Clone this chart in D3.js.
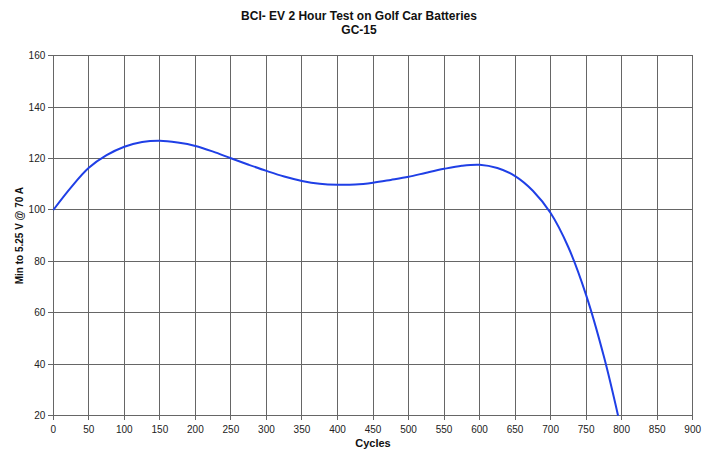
<!DOCTYPE html>
<html>
<head>
<meta charset="utf-8">
<script src="https://cdn.jsdelivr.net/npm/d3@7"></script>
<style>
  body { margin: 0; background: #fff; }
  svg { display: block; }
</style>
</head>
<body>
<div id="chart"></div>
<script>
// readings
const cycles  = [0, 25, 50, 75, 100, 125, 150, 175, 200, 225, 250, 275, 300, 325, 350, 375, 400,
                 425, 450, 475, 500, 525, 550, 575, 600, 625, 650, 675, 700, 725, 750, 775, 795];
const minutes = [100, 108.8, 116.4, 121.3, 124.6, 126.4, 126.9, 126.2, 124.9, 122.7, 120.1, 117.6,
                 115.2, 113.0, 111.3, 110.2, 109.8, 109.9, 110.6, 111.7, 112.9, 114.5, 116.0, 117.2,
                 117.6, 116.3, 113.2, 107.5, 98.8, 85.5, 66.9, 43, 20];
const xTicks = d3.range(0, 901, 50);
const yTicks = d3.range(20, 161, 20);
const titleLines = ["BCI- EV 2 Hour Test on Golf Car Batteries", "GC-15"];

const width = 712, height = 451;
const margin = {top: 55.7, right: 19.3, bottom: 35.3, left: 53.3};

const svg = d3.select("#chart").append("svg")
    .attr("width", width)
    .attr("height", height)
    .style("font-family", "Liberation Sans, Arial, Helvetica, sans-serif");

const x = d3.scaleLinear().domain([0, 900]).range([margin.left, width - margin.right]);
const y = d3.scaleLinear().domain([20, 160]).range([height - margin.bottom, margin.top]);

// grid
const grid = svg.append("g")
    .attr("stroke", "#666")
    .attr("stroke-width", 1)
    .attr("shape-rendering", "crispEdges");

grid.selectAll("line.h").data(yTicks).join("line")
    .attr("class", "h")
    .attr("x1", x(0) - 5).attr("x2", x(900))
    .attr("y1", d => y(d)).attr("y2", d => y(d));

grid.selectAll("line.v").data(xTicks).join("line")
    .attr("class", "v")
    .attr("x1", d => x(d)).attr("x2", d => x(d))
    .attr("y1", y(160)).attr("y2", y(20) + 4);

// tick labels
svg.append("g")
    .attr("font-size", 10)
    .attr("fill", "#222")
    .attr("text-anchor", "end")
    .selectAll("text").data(yTicks).join("text")
    .attr("x", x(0) - 8)
    .attr("y", d => y(d) + 3.5)
    .text(d => d);

svg.append("g")
    .attr("font-size", 10)
    .attr("fill", "#222")
    .attr("text-anchor", "middle")
    .selectAll("text").data(xTicks).join("text")
    .attr("x", d => x(d))
    .attr("y", y(20) + 17)
    .text(d => d);

// curve
const line = d3.line()
    .x((d, i) => x(cycles[i]))
    .y(d => y(d))
    .curve(d3.curveCatmullRom.alpha(0.5));

svg.append("path")
    .datum(minutes)
    .attr("fill", "none")
    .attr("stroke", "#1f3fe6")
    .attr("stroke-width", 2)
    .attr("d", line);

// titles
svg.append("g")
    .attr("font-size", 12)
    .attr("font-weight", "bold")
    .attr("text-anchor", "middle")
    .attr("fill", "#111")
    .selectAll("text").data(titleLines).join("text")
    .attr("x", 359)
    .attr("y", (d, i) => 19.5 + i * 14)
    .text(d => d);

svg.append("text")
    .attr("x", (x(0) + x(900)) / 2)
    .attr("y", height - 4)
    .attr("text-anchor", "middle")
    .attr("font-size", 11)
    .attr("font-weight", "bold")
    .attr("fill", "#111")
    .text("Cycles");

svg.append("text")
    .attr("transform", `translate(23,${(y(20) + y(160)) / 2}) rotate(-90)`)
    .attr("text-anchor", "middle")
    .attr("font-size", 10)
    .attr("font-weight", "bold")
    .attr("fill", "#111")
    .text("Min to 5.25 V @ 70 A");
</script>
</body>
</html>
